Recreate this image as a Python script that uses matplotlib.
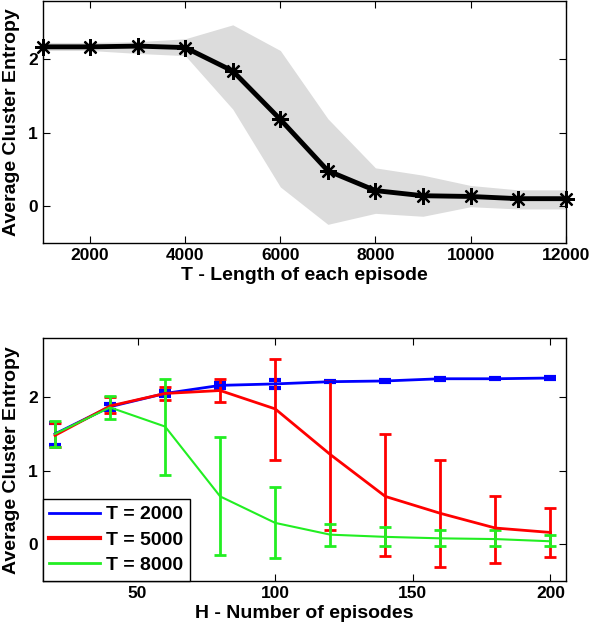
import numpy as np
from matplotlib import pyplot as plt
from matplotlib.lines import Line2D

plt.rcParams['font.family'] = ['Liberation Sans', 'DejaVu Sans']
plt.rcParams['font.weight'] = 'bold'

# top panel: entropy vs episode length
T_vals = [1000, 2000, 3000, 4000, 5000, 6000, 7000, 8000, 9000, 10000, 11000, 12000]
T_mean = [2.17, 2.17, 2.18, 2.16, 1.84, 1.18, 0.48, 0.21, 0.14, 0.13, 0.10, 0.10]
T_upper = [2.23, 2.23, 2.24, 2.28, 2.47, 2.12, 1.19, 0.52, 0.42, 0.28, 0.22, 0.22]
T_lower = [2.12, 2.12, 2.08, 2.05, 1.32, 0.26, -0.25, -0.10, -0.14, -0.01, -0.04, -0.04]

# bottom panel: entropy vs number of episodes
H_vals = [20, 40, 60, 80, 100, 120, 140, 160, 180, 200]
t2000_mean = [1.50, 1.87, 2.05, 2.16, 2.18, 2.21, 2.22, 2.25, 2.25, 2.26]
t2000_err = [0.15, 0.04, 0.03, 0.035, 0.05, 0.01, 0.01, 0.015, 0.01, 0.02]
t5000_mean = [1.48, 1.88, 2.05, 2.09, 1.84, 1.22, 0.65, 0.42, 0.22, 0.16]
t5000_lo = [1.32, 1.79, 1.96, 1.94, 1.15, 0.20, -0.16, -0.31, -0.25, -0.17]
t5000_hi = [1.65, 2.00, 2.14, 2.24, 2.52, 2.22, 1.50, 1.15, 0.66, 0.49]
t8000_mean = [1.50, 1.86, 1.60, 0.65, 0.29, 0.13, 0.10, 0.08, 0.07, 0.04]
t8000_lo = [1.32, 1.70, 0.94, -0.15, -0.19, -0.03, -0.03, -0.02, -0.03, -0.02]
t8000_hi = [1.67, 2.02, 2.24, 1.46, 0.78, 0.28, 0.24, 0.20, 0.20, 0.13]

fig = plt.figure(figsize=(5.92, 6.3), dpi=100)

ax1 = fig.add_axes([0.072, 0.6148, 0.8834, 0.3842])
ax1.fill_between(T_vals, T_lower, T_upper, color='#dcdcdc', linewidth=0)
ax1.plot(T_vals, T_mean, color='black', linewidth=3.5, marker=(8, 2, 0), markersize=12,
         markeredgewidth=1.6, clip_on=False)
ax1.set_xlim(1000, 12000)
ax1.set_ylim(-0.5, 2.8)
ax1.set_xticks([2000, 4000, 6000, 8000, 10000, 12000])
ax1.set_yticks([0, 1, 2])
ax1.set_xlabel('T - Length of each episode', fontsize=14, fontweight='bold', labelpad=3)
ax1.set_ylabel('Average Cluster Entropy', fontsize=14, fontweight='bold', labelpad=6)

ax2 = fig.add_axes([0.072, 0.0778, 0.8834, 0.3852])
ax2.errorbar(H_vals, t2000_mean, yerr=t2000_err, color='#0000ff', linewidth=2,
             capsize=4, capthick=3, elinewidth=2)
ax2.errorbar(H_vals, t5000_mean,
             yerr=[np.subtract(t5000_mean, t5000_lo), np.subtract(t5000_hi, t5000_mean)],
             color='#ff0000', linewidth=2, capsize=4, capthick=2, elinewidth=2)
ax2.errorbar(H_vals, t8000_mean,
             yerr=[np.subtract(t8000_mean, t8000_lo), np.subtract(t8000_hi, t8000_mean)],
             color='#22ee22', linewidth=1.5, capsize=4, capthick=2, elinewidth=2)
ax2.set_xlim(15.5, 205.5)
ax2.set_ylim(-0.5, 2.8)
ax2.set_xticks([50, 100, 150, 200])
ax2.set_yticks([0, 1, 2])
ax2.set_xlabel('H - Number of episodes', fontsize=14, fontweight='bold', labelpad=3)
ax2.set_ylabel('Average Cluster Entropy', fontsize=14, fontweight='bold', labelpad=6)
handles = [Line2D([], [], color='#0000ff', linewidth=2),
           Line2D([], [], color='#ff0000', linewidth=3),
           Line2D([], [], color='#22ee22', linewidth=2)]
leg = ax2.legend(handles, ['T = 2000', 'T = 5000', 'T = 8000'], loc='lower left',
                 fontsize=14, frameon=True, fancybox=False, framealpha=1,
                 edgecolor='black', borderaxespad=0, handlelength=2.6,
                 handletextpad=0.3, labelspacing=0.4, borderpad=0.35)
leg.get_frame().set_linewidth(1)

for ax in (ax1, ax2):
    ax.tick_params(direction='in', top=True, right=True, labelsize=12.5, length=5)
    for lab in ax.get_xticklabels() + ax.get_yticklabels():
        lab.set_fontweight('bold')
    for s in ax.spines.values():
        s.set_linewidth(1)

fig.savefig('out.png', dpi=100)
